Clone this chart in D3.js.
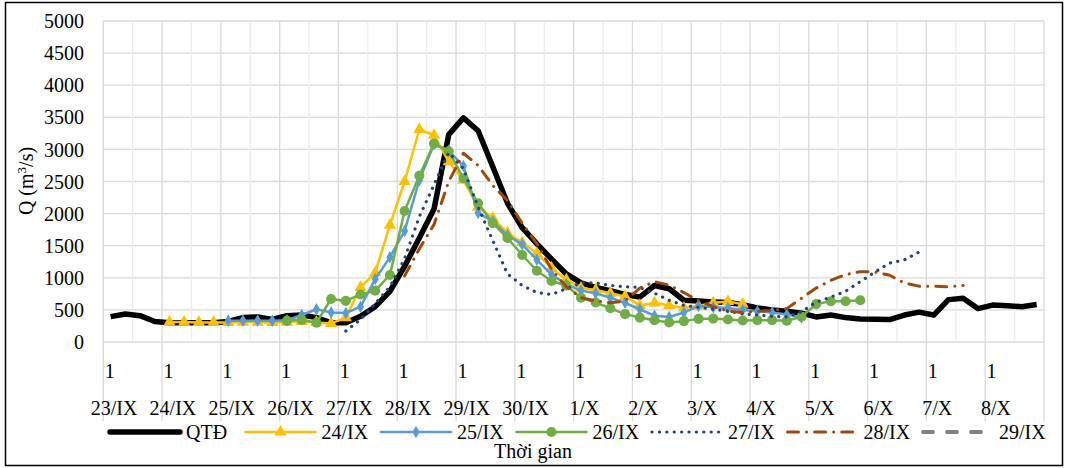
<!DOCTYPE html>
<meta charset="utf-8">
<style>
body { margin: 0; background: #fff; }
text { font-family: "Liberation Serif", "Times New Roman", serif; fill: #000; }
.grid line { stroke: #d9d9d9; stroke-width: 1.3px; }
.grid .minor { stroke: #ececec; }
.line { fill: none; stroke-linejoin: round; }
</style>
<body>
<script src="https://d3js.org/d3.v7.min.js"></script>
<script>

// 4 forecasts a day (6-hourly), first one labelled "1"
var days = ["23/IX", "24/IX", "25/IX", "26/IX", "27/IX", "28/IX", "29/IX", "30/IX",
            "1/X", "2/X", "3/X", "4/X", "5/X", "6/X", "7/X", "8/X"];
var hours = ["1", "7", "13", "19"];
var yTicks = [0, 500, 1000, 1500, 2000, 2500, 3000, 3500, 4000, 4500, 5000];

// observed discharge (QTĐ), from 23/IX
var qtd = [395, 435, 410, 320, 300, 300, 300, 300, 320, 380, 390, 350, 410, 420, 380, 300,
           300, 400, 550, 790, 1180, 1620, 2070, 3230, 3490, 3290, 2730, 2160, 1780, 1530, 1290, 1060,
           920, 850, 800, 740, 700, 880, 830, 650, 640, 625, 615, 580, 530, 500, 480, 450,
           390, 420, 380, 360, 355, 350, 420, 465, 420, 660, 680, 520, 575, 565, 550, 585];

// forecasts, each starting at its issue date (index into the 6-hourly steps)
var f24Start = 4;
var f24 = [310, 310, 305, 305, 305, 310, 310, 305, 310, 320, 305, 290,
           380, 850, 1080, 1820, 2500, 3310, 3220, 2810, 2520, 2100, 1930, 1700,
           1550, 1380, 1150, 970, 840, 810, 760, 710, 570, 610, 570, 530, 560, 610, 630, 590];

var f25Start = 8;
var f25 = [330, 330, 330, 330, 340, 420, 510, 460, 450, 550,
           980, 1320, 1730, 2520, 3080, 2980, 2740, 2010, 1880, 1660,
           1520, 1280, 1050, 900, 800, 760, 690, 610, 510, 410,
           390, 460, 560, 540, 530, 500, 480, 460, 430, 380];

var f26Start = 12;
var f26 = [330, 345, 300, 670, 640, 740, 800, 1044, 2040, 2590,
           3090, 2970, 2550, 2160, 1850, 1620, 1355, 1110, 950, 880,
           690, 615, 525, 435, 380, 340, 305, 325, 360, 365,
           350, 335, 340, 340, 332, 394, 590, 635, 635, 650];

var f27Start = 16;
var f27 = [170, 350, 600, 860, 1300, 1950, 2450, 2950, 2700, 2100,
           1580, 1060, 880, 770, 740, 830, 920, 920, 880, 860,
           850, 760, 650, 570, 540, 510, 480, 440, 420, 400,
           390, 470, 620, 700, 790, 940, 1090, 1230, 1280, 1400];

var f28Start = 20;
var f28 = [1030, 1450, 1830, 2500, 2940, 2750, 2440, 2200, 1850, 1530,
           1130, 860, 690, 640, 610, 640, 840, 940, 885, 770,
           640, 550, 480, 460, 480, 490, 520, 680, 840, 960,
           1050, 1096, 1090, 1040, 920, 870, 870, 860, 880];

var f29Start = 24;
var f29 = [];

var svg = d3.select("body").append("svg")
    .attr("width", 1067)
    .attr("height", 468)
    .attr("font-family", "Liberation Serif");

// chart border
svg.append("rect")
    .attr("x", 5.5).attr("y", 2.5)
    .attr("width", 1057).attr("height", 463)
    .attr("fill", "none").attr("stroke", "#000").attr("stroke-width", 1.5);

var steps = d3.range(days.length * hours.length);

var x = d3.scaleBand().domain(steps).range([103.3, 1044]);
var y = d3.scaleLinear().domain([0, 5000]).range([342, 21]);
var bw = x.bandwidth();
function cx(i) { return x(i) + bw / 2; }

// grid
var grid = svg.append("g").attr("class", "grid");

grid.selectAll(".h").data(yTicks).enter().append("line")
    .attr("x1", 103.3).attr("x2", 1044)
    .attr("y1", function(d) { return y(d); })
    .attr("y2", function(d) { return y(d); });

var halfDays = d3.range(0, steps.length + 1, 2);
grid.selectAll(".v").data(halfDays).enter().append("line")
    .attr("class", function(d) { return d % 4 === 0 ? "major" : "minor"; })
    .attr("x1", function(d) { return d < steps.length ? x(d) : x.range()[1]; })
    .attr("x2", function(d) { return d < steps.length ? x(d) : x.range()[1]; })
    .attr("y1", 21)
    .attr("y2", function(d) { return d % 4 === 0 ? 421 : 342; });

// y axis
var yAxis = svg.append("g")
    .attr("transform", "translate(84,0)")
    .call(d3.axisLeft(y).tickValues(yTicks).tickFormat(d3.format("d")).tickSize(0).tickPadding(0))
    .attr("font-family", "Liberation Serif")
    .attr("font-size", 20);
yAxis.select(".domain").remove();
yAxis.selectAll("text")
    .attr("dy", "0.33em");

svg.append("text")
    .attr("transform", "translate(33,181) rotate(-90)")
    .attr("text-anchor", "middle")
    .attr("font-family", "Liberation Serif")
    .attr("font-size", 20)
    .html('Q (m<tspan dy="-7" font-size="13">3</tspan><tspan dy="7">/s)</tspan>');

// x labels: hour "1" and the day below
var dayStarts = d3.range(0, steps.length, hours.length);
svg.selectAll(".hour").data(dayStarts).enter().append("text")
    .attr("x", function(d) { return cx(d) - 1; })
    .attr("y", 378)
    .attr("text-anchor", "middle")
    .style("font-size", "20px")
    .text(hours[0]);

svg.selectAll(".day").data(dayStarts).enter().append("text")
    .attr("x", function(d) { return cx(d) + 3.5; })
    .attr("y", 415)
    .attr("text-anchor", "middle")
    .style("font-size", "20px")
    .text(function(d, i) { return days[i]; });

svg.append("text")
    .attr("x", 533).attr("y", 458)
    .attr("text-anchor", "middle")
    .style("font-size", "20px")
    .text("Thời gian");

// series
function pts(start, vals) {
  return vals.map(function(v, k) { return {i: start + k, v: v}; });
}

var series = [
  {name: "24/IX", data: pts(f24Start, f24), color: "#FFC000", width: 2.5, marker: "triangle"},
  {name: "25/IX", data: pts(f25Start, f25), color: "#5B9BD5", width: 2.5, marker: "diamond"},
  {name: "26/IX", data: pts(f26Start, f26), color: "#70AD47", width: 2.5, marker: "circle"},
  {name: "27/IX", data: pts(f27Start, f27), color: "#264478", width: 3.2, dash: "0.1,7.3"},
  {name: "28/IX", data: pts(f28Start, f28), color: "#9E480E", width: 3, dash: "11,8,0.1,8"},
  {name: "29/IX", data: pts(f29Start, f29), color: "#7F7F7F", width: 4, dash: "10,14"}
];
var obs = {name: "QTĐ", data: pts(0, qtd), color: "#000", width: 5.5};

var line = d3.line()
    .x(function(d) { return cx(d.i); })
    .y(function(d) { return y(d.v); });

var symbols = {
  triangle: d3.symbol().type(d3.symbolTriangle).size(65),
  diamond: d3.symbol().type(d3.symbolDiamond).size(45),
  circle: d3.symbol().type(d3.symbolCircle).size(80)
};

function drawLine(s) {
  if (!s.data.length) return;
  svg.append("path")
      .datum(s.data)
      .attr("class", "line")
      .attr("d", line)
      .attr("stroke", s.color)
      .attr("stroke-width", s.width)
      .attr("stroke-linecap", s.dash ? "round" : "butt")
      .attr("stroke-dasharray", s.dash || null);
  if (s.marker) {
    svg.selectAll(null).data(s.data).enter().append("path")
        .attr("transform", function(d) { return "translate(" + cx(d.i) + "," + y(d.v) + ")"; })
        .attr("d", symbols[s.marker])
        .attr("fill", s.color);
  }
}

// draw order: QTĐ first, forecasts over it
drawLine(obs);
series.forEach(drawLine);

// legend
var legend = [obs].concat(series);
var lg = svg.selectAll(".legend").data(legend).enter().append("g")
    .attr("transform", function(d, k) { return "translate(" + (110 + k * 135.5) + ",432)"; });

lg.append("line")
    .attr("x1", 0).attr("x2", 70)
    .attr("stroke", function(d) { return d.color; })
    .attr("stroke-width", function(d) { return d.width; })
    .attr("stroke-linecap", "round")
    .attr("stroke-dasharray", function(d) { return d.dash || null; });

lg.filter(function(d) { return d.marker; }).append("path")
    .attr("transform", "translate(35,0)")
    .attr("d", function(d) { return symbols[d.marker](); })
    .attr("fill", function(d) { return d.color; });

lg.append("text")
    .attr("x", 76).attr("y", 7)
    .style("font-size", "20px")
    .text(function(d) { return d.name; });

</script>
</body>
